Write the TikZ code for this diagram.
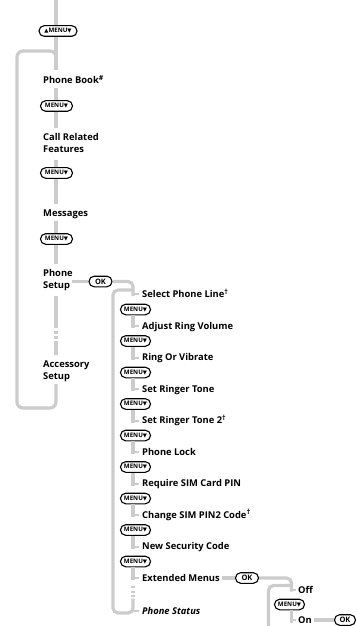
\documentclass[tikz,border=0pt]{standalone}
\usepackage{fontspec}
\setmainfont{Open Sans}
\newfontfamily\symf{DejaVu Sans}
\definecolor{lgray}{RGB}{204,204,204}
\newcommand\mydown{{\symf\fontsize{5.4}{6}\selectfont ▼}}
\newcommand\myup{{\symf\fontsize{5.4}{6}\selectfont ▲}}
\newcommand\mysup[1]{\raisebox{3.2bp}{\fontsize{7}{7}\selectfont #1}}
\tikzset{
  gl/.style={draw=lgray, line width=3.2bp},
  stub/.style={draw=lgray, line width=2bp},
  lbl/.style={anchor=base west, inner sep=0pt, font=\fontsize{9.4}{11}\selectfont\bfseries},
  btn/.style={draw=black, fill=white, line width=1.1bp, rounded corners=5.2bp,
    minimum height=10.6bp, minimum width=30bp, inner sep=0pt,
    font=\fontsize{6.2}{7}\selectfont\bfseries},
  okbtn/.style={btn, minimum width=23bp, font=\fontsize{7.5}{8}\selectfont\bfseries},
}
\begin{document}
\begin{tikzpicture}[x=1bp,y=-1bp]
\useasboundingbox (0,0) rectangle (356,626);
\coordinate (X) at (56,0);
\coordinate (S) at (133,0);
\coordinate (T) at (291.5,0);
% ---------- main column nodes
\node[btn, minimum width=38bp] (top) at (58,31) {\myup MENU\mydown};
\node[lbl] (pb) at (43,83.5) {Phone Book\mysup{\#}};
\node[btn, minimum width=32bp] (m1) at (56.5,106) {MENU\mydown};
\node[lbl] (cr1) at (43,140.5) {Call Related};
\node[lbl] (cr2) at (43,153) {Features};
\node[btn, minimum width=32bp] (m2) at (56.5,173) {MENU\mydown};
\node[lbl] (msg) at (43,216) {Messages};
\node[btn, minimum width=32bp] (m3) at (56.5,239) {MENU\mydown};
\node[lbl] (ph1) at (43,276) {Phone};
\node[lbl] (ph2) at (43,288) {Setup};
\node[okbtn] (ok1) at (100.5,281.5) {OK};
\node[lbl] (ac1) at (43,367) {Accessory};
\node[lbl] (ac2) at (43,379.5) {Setup};
% ---------- main column lines
\draw[gl] (X) -- (X |- top.north);
\draw[gl] (X |- top.south) -- (56,70);
\draw[gl, rounded corners=6bp] (56,66) -- (56,51) -- (17,51) -- (17,408) -- (56,408) -- (56,384);
\draw[gl] (56,88.5) -- (X |- m1.north);
\draw[gl] (X |- m1.south) -- (56,128);
\draw[gl] (56,160) -- (X |- m2.north);
\draw[gl] (X |- m2.south) -- (56,204);
\draw[gl] (56,221) -- (X |- m3.north);
\draw[gl] (X |- m3.south) -- (56,264);
\draw[gl] ([xshift=2bp]ph2.east |- ok1.west) -- (ok1.west);
\draw[gl] (56,296) -- (56,328);
\draw[gl] (56,331) -- (56,333.5);
\draw[gl] (56,336) -- (56,338.5);
\draw[gl] (56,341) -- (56,355);
% ---------- sub column nodes
\node[lbl] (i0) at (142,297.5) {Select Phone Line\mysup{†}};
\node[lbl] (i1) at (142,329) {Adjust Ring Volume};
\node[lbl] (i2) at (142,360.5) {Ring Or Vibrate};
\node[lbl] (i3) at (142,392) {Set Ringer Tone};
\node[lbl] (i4) at (142,423.5) {Set Ringer Tone 2\mysup{†}};
\node[lbl] (i5) at (142,455) {Phone Lock};
\node[lbl] (i6) at (142,486.5) {Require SIM Card PIN};
\node[lbl] (i7) at (142,518) {Change SIM PIN2 Code\mysup{†}};
\node[lbl] (i8) at (142,549.5) {New Security Code};
\node[lbl] (i9) at (142,581) {Extended Menus};
\node[lbl, font=\fontsize{9.4}{11}\selectfont\bfseries\itshape] (ps) at (142,614.5) {Phone Status};
\foreach \k [evaluate=\k as \yy using 309.5+31.5*(\k-1)] in {1,...,9}{
  \node[btn] (s\k) at (135.5,\yy) {MENU\mydown};
  \draw[gl] (S |- s\k.south) -- ++(0,13);
  \draw[stub] (S |- s\k.south) ++(0,10.7) -- ++(6,0);
}
% ---------- sub column lines
\draw[gl, rounded corners=5bp] (ok1.east) -- (S |- ok1.east) -- (133,296);
\draw[stub] (133,294) -- (139,294);
\draw[gl] (133,586) -- (133,588);
\draw[gl] (133,591) -- (133,593);
\draw[gl] (133,595) -- (133,596.5);
\draw[gl, rounded corners=5bp] (133,598.5) -- (133,613) -- (113,613) -- (113,290) -- (133,290);
\draw[stub] (133,611) -- (139,611);
% ---------- extended menus
\node[okbtn] (ok2) at (247,578) {OK};
\draw[gl] ([xshift=2bp]i9.east |- ok2.west) -- (ok2.west);
\node[lbl] (off) at (298,593) {Off};
\node[btn] (s10) at (289.5,604.5) {MENU\mydown};
\node[lbl] (on) at (298,623.5) {On};
\node[okbtn, minimum width=21bp] (ok3) at (345,620) {OK};
\draw[gl, rounded corners=5bp] (ok2.east) -- (T |- ok2.east) -- (291.5,591.5);
\draw[stub] (291.5,589.5) -- (296,589.5);
\draw[gl, rounded corners=5bp] (291.5,585.5) -- (268.5,585.5) -- (268.5,630);
\draw[gl] (T |- s10.south) -- (291.5,622.5);
\draw[stub] (291.5,620) -- (296,620);
\draw[gl] ([xshift=2bp]on.east |- ok3.west) -- (ok3.west);
\end{tikzpicture}
\end{document}
